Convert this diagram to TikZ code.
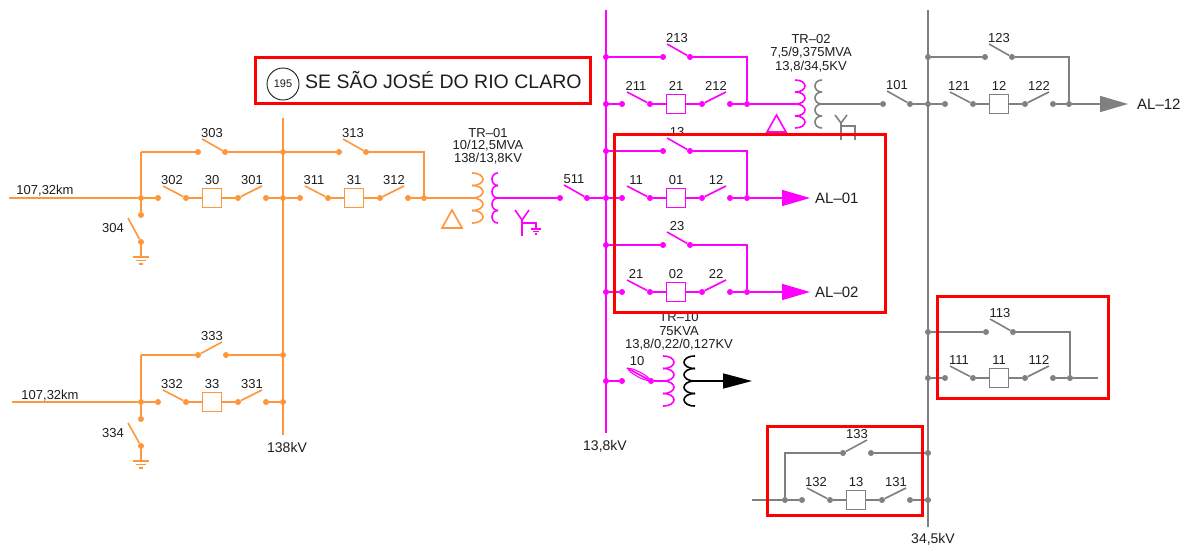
\documentclass[tikz,border=0pt]{standalone}
\usepackage{fontspec}
\setmainfont{Liberation Sans}
\usetikzlibrary{arrows.meta,shapes.geometric}
\definecolor{cor}{RGB}{255,150,60}
\definecolor{cmg}{RGB}{255,0,255}
\definecolor{cgy}{RGB}{128,128,128}
\definecolor{ctx}{RGB}{30,30,30}
\definecolor{cred}{RGB}{255,0,0}
\tikzset{
 wire/.style={line width=1.6pt},
 busline/.style={line width=1.9pt},
 dot/.style={circle,fill,inner sep=0pt,minimum size=6pt},
 brk/.style={draw,fill=white,inner sep=0pt,minimum width=19pt,minimum height=19pt,line width=1.3pt},
 lbl/.style={text=ctx,font=\fontsize{13}{13}\selectfont,inner sep=0pt},
 trtxt/.style={text=ctx,font=\fontsize{13}{13}\selectfont,inner sep=0pt},
 altxt/.style={text=ctx,font=\fontsize{15}{15}\selectfont,inner sep=0pt,anchor=west},
 kvtxt/.style={text=ctx,font=\fontsize{14}{14}\selectfont,inner sep=0pt},
 redbox/.style={draw=cred,line width=3pt},
 arr/.style={-{Triangle[length=28pt,width=16pt]}},
}
% bay: prefix, x0, y, colour, label left, label box, label right
\newcommand\bay[7]{%
 \node[dot,#4] (#1a) at (#2,#3) {};
 \coordinate (#1b) at ({#2+5},{#3-12});
 \node[dot,#4] (#1c) at ({#2+28},#3) {};
 \node[brk,draw=#4] (#1k) at ({#2+54},#3) {};
 \node[dot,#4] (#1d) at ({#2+80},#3) {};
 \coordinate (#1e) at ({#2+104},{#3-12});
 \node[dot,#4] (#1f) at ({#2+108},#3) {};
 \draw[wire,#4] (#1b) -- (#1c) -- (#1k) -- (#1d) -- (#1e);
 \node[lbl] (#1l) at ({#2+14},{#3-18}) {#5};
 \node[lbl] (#1m) at ({#2+54},{#3-18}) {#6};
 \node[lbl] (#1n) at ({#2+94},{#3-18}) {#7};
}
% bypass switch (blade rising to the left)
\newcommand\byp[5]{%
 \node[dot,#4] (#1a) at (#2,#3) {};
 \coordinate (#1b) at ({#2+4},{#3-13});
 \node[dot,#4] (#1c) at ({#2+27},#3) {};
 \draw[wire,#4] (#1b) -- (#1c);
 \node[lbl] (#1l) at ({#2+14},{#3-19}) {#5};
}
% bypass switch (blade rising to the right)
\newcommand\bypr[5]{%
 \node[dot,#4] (#1a) at (#2,#3) {};
 \coordinate (#1b) at ({#2+24},{#3-13});
 \node[dot,#4] (#1c) at ({#2+28},#3) {};
 \draw[wire,#4] (#1a) -- (#1b);
 \node[lbl] (#1l) at ({#2+14},{#3-19}) {#5};
}
% coil: x joint, y top, bump height, bulge (+right/-left), colour
\newcommand\coil[5]{%
 \foreach \i in {0,1,2,3}{%
  \draw[wire,#5] (#1,{#2+\i*#3}) .. controls ({#1+1.333*#4},{#2+\i*#3}) and ({#1+1.333*#4},{#2+(\i+1)*#3}) .. (#1,{#2+(\i+1)*#3});
 }}
% ground: x, y, colour
\newcommand\gnd[3]{%
 \draw[wire,#3] ({#1-8},#2) -- ({#1+8},#2);
 \draw[wire,#3] ({#1-5},{#2+3.5}) -- ({#1+5},{#2+3.5});
 \draw[wire,#3] ({#1-2},{#2+7}) -- ({#1+2},{#2+7});
}
\begin{document}
\begin{tikzpicture}[x=1pt,y=-1pt]
\useasboundingbox (0,0) rectangle (1191,552);
\fill[white] (0,0) rectangle (1191,552);

% ---------- buses ----------
\coordinate (obT) at (283,118); \coordinate (obB) at (283,435);
\draw[busline,cor] (obT) -- (obB);
\coordinate (mbT) at (606,10); \coordinate (mbB) at (606,433);
\draw[busline,cmg] (mbT) -- (mbB);
\coordinate (gbT) at (928,10); \coordinate (gbB) at (928,527);
\draw[busline,cgy] (gbT) -- (gbB);
\node[kvtxt] (l138) at (287,447) {138kV};
\node[kvtxt] (l138b) at (605,446) {13,8kV};
\node[kvtxt] (l345) at (933,539) {34,5kV};

% ---------- orange upper line ----------
\node[lbl] (lkm1) at (45,191) {107,32km};
\coordinate (in1) at (9,198);
\node[dot,cor] (j1) at (141,198) {};
\coordinate (c1) at (141,152);
\node[dot,cor] (g1) at (141,215) {};
\draw[wire,cor] (in1) -- (j1);
\draw[wire,cor] (c1) -- (j1) -- (g1);
\byp{sA}{198}{152}{cor}{303}
\node[dot,cor] (ob1) at (283,152) {};
\draw[wire,cor] (c1) -- (sAa);
\draw[wire,cor] (sAc) -- (ob1);
\bay{bA}{158}{198}{cor}{302}{30}{301}
\draw[wire,cor] (j1) -- (bAa);
\node[dot,cor] (ob2) at (283,198) {};
\bay{bB}{300}{198}{cor}{311}{31}{312}
\draw[wire,cor] (bAf) -- (ob2) -- (bBa);
\byp{sB}{339}{152}{cor}{313}
\coordinate (c2) at (424,152);
\node[dot,cor] (j2) at (424,198) {};
\draw[wire,cor] (ob1) -- (sBa);
\draw[wire,cor] (sBc) -- (c2) -- (j2);
\coordinate (t1p) at (472,198);
\draw[wire,cor] (bBf) -- (j2) -- (t1p);
% ground 304
\coordinate (g1b) at (128,218);
\node[dot,cor] (g1c) at (141,242) {};
\coordinate (g1e) at (141,257);
\draw[wire,cor] (g1b) -- (g1c);
\draw[wire,cor] (g1c) -- (g1e);
\gnd{141}{257}{cor}
\node[lbl] (l304) at (113,228) {304};

% ---------- orange lower line ----------
\node[lbl] (lkm2) at (50,396) {107,32km};
\coordinate (in2) at (12,402);
\node[dot,cor] (j3) at (141,402) {};
\coordinate (c3) at (141,355);
\node[dot,cor] (g2) at (141,419) {};
\draw[wire,cor] (in2) -- (j3);
\draw[wire,cor] (c3) -- (j3) -- (g2);
\bypr{sC}{198}{355}{cor}{333}
\node[dot,cor] (ob3) at (283,355) {};
\draw[wire,cor] (c3) -- (sCa);
\draw[wire,cor] (sCc) -- (ob3);
\bay{bC}{158}{402}{cor}{332}{33}{331}
\node[dot,cor] (ob4) at (283,402) {};
\draw[wire,cor] (j3) -- (bCa);
\draw[wire,cor] (bCf) -- (ob4);
% ground 334
\coordinate (g2b) at (128,423);
\node[dot,cor] (g2c) at (141,446) {};
\coordinate (g2e) at (141,461);
\draw[wire,cor] (g2b) -- (g2c);
\draw[wire,cor] (g2c) -- (g2e);
\gnd{141}{461}{cor}
\node[lbl] (l334) at (113,433) {334};

% ---------- TR-01 ----------
\node[trtxt] (tr1a) at (488,133) {TR–01};
\node[trtxt] (tr1b) at (488,146) {10/12,5MVA};
\node[trtxt] (tr1c) at (488,159) {138/13,8KV};
\coil{472}{173}{12.5}{11}{cor}
\coil{498}{173}{12.5}{-6}{cmg}
\draw[wire,cor] (442,228) -- (462,228) -- (452,210) -- cycle;
\draw[wire,cmg] (515,210) -- (522,220) -- (529,210);
\draw[wire,cmg] (522,220) -- (522,236);
\draw[wire,cmg] (522,223) -- (536,223) -- (536,229);
\draw[wire,cmg] (531,229) -- (541,229);
\draw[wire,cmg] (533,231.5) -- (539,231.5);
\draw[wire,cmg] (535,234) -- (537,234);
\coordinate (t1s) at (498,198);
\byp{sD}{560}{198}{cmg}{511}
\node[dot,cmg] (mb3) at (606,198) {};
\draw[wire,cmg] (t1s) -- (sDa);
\draw[wire,cmg] (sDc) -- (mb3);

% ---------- magenta 21 / TR-02 ----------
\node[dot,cmg] (mb1) at (606,57) {};
\byp{sE}{663}{57}{cmg}{213}
\coordinate (c4) at (747,57);
\node[dot,cmg] (j4) at (747,104) {};
\draw[wire,cmg] (mb1) -- (sEa);
\draw[wire,cmg] (sEc) -- (c4) -- (j4);
\node[dot,cmg] (mb2) at (606,104) {};
\bay{bD}{622}{104}{cmg}{211}{21}{212}
\coordinate (t2p) at (795,104);
\draw[wire,cmg] (mb2) -- (bDa);
\draw[wire,cmg] (bDf) -- (j4) -- (t2p);
\node[trtxt] (tr2a) at (811,39) {TR–02};
\node[trtxt] (tr2b) at (811,53) {7,5/9,375MVA};
\node[trtxt] (tr2c) at (811,67) {13,8/34,5KV};
\coil{795}{80}{12}{10}{cmg}
\coil{822}{80}{12}{-7}{cgy}
\draw[wire,cmg] (767,132) -- (786,132) -- (776.5,115) -- cycle;
\draw[wire,cgy] (835,115) -- (841,123) -- (847,115);
\draw[wire,cgy] (841,123) -- (841,140);
\draw[wire,cgy] (841,126) -- (855,126) -- (855,140);

% ---------- magenta feeders AL-01 / AL-02 ----------
\node[dot,cmg] (mbF) at (606,151) {};
\byp{sF}{663}{151}{cmg}{13}
\coordinate (c5) at (747,151);
\node[dot,cmg] (j5) at (747,198) {};
\draw[wire,cmg] (mbF) -- (sFa);
\draw[wire,cmg] (sFc) -- (c5) -- (j5);
\bay{bE}{622}{198}{cmg}{11}{01}{12}
\coordinate (al1) at (810,198);
\draw[wire,cmg] (mb3) -- (bEa);
\draw[wire,cmg,arr] (bEf) -- (j5) -- (al1);
\node[altxt] (tal1) at (815,198) {AL–01};

\node[dot,cmg] (mbG) at (606,245) {};
\byp{sG}{663}{245}{cmg}{23}
\coordinate (c6) at (747,245);
\node[dot,cmg] (j6) at (747,292) {};
\draw[wire,cmg] (mbG) -- (sGa);
\draw[wire,cmg] (sGc) -- (c6) -- (j6);
\node[dot,cmg] (mb5) at (606,292) {};
\bay{bF}{622}{292}{cmg}{21}{02}{22}
\coordinate (al2) at (810,292);
\draw[wire,cmg] (mb5) -- (bFa);
\draw[wire,cmg,arr] (bFf) -- (j6) -- (al2);
\node[altxt] (tal2) at (815,292) {AL–02};

% ---------- TR-10 ----------
\node[trtxt] (tr3a) at (679,317) {TR–10};
\node[trtxt] (tr3b) at (679,331) {75KVA};
\node[trtxt] (tr3c) at (679,345) {13,8/0,22/0,127KV};
\node[dot,cmg] (mb6) at (606,381) {};
\node[dot,cmg] (f10a) at (622,381) {};
\coordinate (f10b) at (627,368);
\node[dot,cmg] (f10c) at (651,381) {};
\draw[wire,cmg] (mb6) -- (f10a);
\draw[wire,cmg] (f10b) -- (f10c);
\node[draw=cmg,line width=1.1pt,ellipse,minimum width=24pt,minimum height=5pt,inner sep=0pt,rotate=-28] (fuse) at (639,374.5) {};
\node[lbl] (l10) at (637,361) {10};
\coordinate (t10p) at (663,381);
\draw[wire,cmg] (f10c) -- (t10p);
\coil{663}{356}{12.5}{11}{cmg}
\coil{695}{356}{12.5}{-11}{black}
\coordinate (t10s) at (695,381);
\coordinate (t10tip) at (752,381);
\draw[wire,black,-{Triangle[length=29pt,width=15pt]}] (t10s) -- (t10tip);

% ---------- gray 34,5 kV ----------
\coordinate (t2s) at (822,104);
\byp{sH}{883}{104}{cgy}{101}
\node[dot,cgy] (gb2) at (928,104) {};
\draw[wire,cgy] (t2s) -- (sHa);
\draw[wire,cgy] (sHc) -- (gb2);
\bay{bG}{945}{104}{cgy}{121}{12}{122}
\node[dot,cgy] (j7) at (1069,104) {};
\coordinate (al12) at (1128,104);
\draw[wire,cgy] (gb2) -- (bGa);
\draw[wire,cgy,arr] (bGf) -- (j7) -- (al12);
\node[altxt] (tal12) at (1137,104) {AL–12};
\node[dot,cgy] (gb1) at (928,57) {};
\byp{sI}{985}{57}{cgy}{123}
\coordinate (c7) at (1069,57);
\draw[wire,cgy] (gb1) -- (sIa);
\draw[wire,cgy] (sIc) -- (c7) -- (j7);

\node[dot,cgy] (gb3) at (928,332) {};
\byp{sJ}{986}{332}{cgy}{113}
\coordinate (c8) at (1070,332);
\node[dot,cgy] (j8) at (1070,378) {};
\draw[wire,cgy] (gb3) -- (sJa);
\draw[wire,cgy] (sJc) -- (c8) -- (j8);
\node[dot,cgy] (gb4) at (928,378) {};
\bay{bH}{945}{378}{cgy}{111}{11}{112}
\coordinate (e11) at (1098,378);
\draw[wire,cgy] (gb4) -- (bHa);
\draw[wire,cgy] (bHf) -- (j8) -- (e11);

\coordinate (e13) at (752,500);
\node[dot,cgy] (j9) at (785,500) {};
\bay{bI}{802}{500}{cgy}{132}{13}{131}
\node[dot,cgy] (gb6) at (928,500) {};
\draw[wire,cgy] (e13) -- (j9) -- (bIa);
\draw[wire,cgy] (bIf) -- (gb6);
\coordinate (c9) at (785,453);
\bypr{sK}{843}{453}{cgy}{133}
\node[dot,cgy] (gb5) at (928,453) {};
\draw[wire,cgy] (j9) -- (c9) -- (sKa);
\draw[wire,cgy] (sKc) -- (gb5);

% ---------- title ----------
\node[circle,draw=ctx,line width=0.9pt,minimum size=32pt,inner sep=0pt,text=ctx,font=\fontsize{11}{11}\selectfont] (c195) at (283,84) {195};
\node[anchor=base west,inner sep=0pt,text=ctx,font=\fontsize{19.5}{19.5}\selectfont] (title) at (305,88) {SE SÃO JOSÉ DO RIO CLARO};

% ---------- red highlight boxes ----------
\draw[redbox] (255,57) rectangle (590,103);
\draw[redbox] (614,134) rectangle (885,312);
\draw[redbox] (937,296) rectangle (1108,398);
\draw[redbox] (767,426) rectangle (922,515);
\end{tikzpicture}
\end{document}
